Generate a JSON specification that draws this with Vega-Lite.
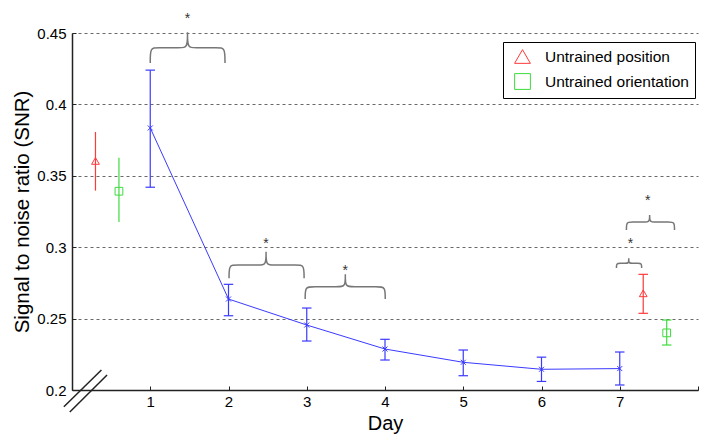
{
  "$schema": "https://vega.github.io/schema/vega-lite/v6.json",
  "width": 626,
  "height": 357,
  "autosize": "none",
  "padding": {"left": 72, "top": 33, "right": 9, "bottom": 46},
  "background": "white",
  "config": {
    "font": "Liberation Sans",
    "view": {"stroke": null},
    "axis": {"labelFont": "Liberation Sans", "titleFont": "Liberation Sans", "labelColor": "black", "titleColor": "black", "titleFontWeight": "normal", "domainColor": "#222", "domainWidth": 1.5, "tickColor": "#222"},
    "legend": {"title": null, "orient": "none", "legendX": 431, "legendY": 9, "strokeColor": "black", "fillColor": "white", "padding": 6, "rowPadding": 5, "symbolSize": 250, "symbolStrokeWidth": 1, "symbolOffset": 5, "labelOffset": 14, "labelFontSize": 15.5, "labelFont": "Liberation Sans", "labelColor": "black", "labelLimit": 300}
  },
  "datasets": {
    "snr": [
      {"day": 1, "cond": "Trained", "mean": 0.3835, "lo": 0.342, "hi": 0.424},
      {"day": 2, "cond": "Trained", "mean": 0.2637, "lo": 0.252, "hi": 0.274},
      {"day": 3, "cond": "Trained", "mean": 0.2455, "lo": 0.2343, "hi": 0.2574},
      {"day": 4, "cond": "Trained", "mean": 0.2287, "lo": 0.221, "hi": 0.2355},
      {"day": 5, "cond": "Trained", "mean": 0.2194, "lo": 0.21, "hi": 0.228},
      {"day": 6, "cond": "Trained", "mean": 0.2145, "lo": 0.206, "hi": 0.223},
      {"day": 7, "cond": "Trained", "mean": 0.215, "lo": 0.2035, "hi": 0.2266},
      {"day": 0.3, "cond": "Untrained position", "mean": 0.3604, "lo": 0.3396, "hi": 0.3807},
      {"day": 7.3, "cond": "Untrained position", "mean": 0.2677, "lo": 0.2537, "hi": 0.281},
      {"day": 0.6, "cond": "Untrained orientation", "mean": 0.3392, "lo": 0.3176, "hi": 0.3626},
      {"day": 7.6, "cond": "Untrained orientation", "mean": 0.24, "lo": 0.2315, "hi": 0.249}
    ],
    "braces": [
      {"b": 1, "i": 1, "day": 1.0, "snr": 0.429},
      {"b": 1, "i": 2, "day": 1.0, "snr": 0.4397},
      {"b": 1, "i": 3, "day": 1.08, "snr": 0.4397},
      {"b": 1, "i": 4, "day": 1.396, "snr": 0.4397},
      {"b": 1, "i": 5, "day": 1.476, "snr": 0.4397},
      {"b": 1, "i": 6, "day": 1.476, "snr": 0.4505},
      {"b": 1, "i": 7, "day": 1.476, "snr": 0.4505},
      {"b": 1, "i": 8, "day": 1.476, "snr": 0.4505},
      {"b": 1, "i": 9, "day": 1.476, "snr": 0.4397},
      {"b": 1, "i": 10, "day": 1.556, "snr": 0.4397},
      {"b": 1, "i": 11, "day": 1.875, "snr": 0.4397},
      {"b": 1, "i": 12, "day": 1.955, "snr": 0.4397},
      {"b": 1, "i": 13, "day": 1.955, "snr": 0.429},
      {"b": 2, "i": 1, "day": 2.007, "snr": 0.2782},
      {"b": 2, "i": 2, "day": 2.007, "snr": 0.2875},
      {"b": 2, "i": 3, "day": 2.087, "snr": 0.2875},
      {"b": 2, "i": 4, "day": 2.4, "snr": 0.2875},
      {"b": 2, "i": 5, "day": 2.48, "snr": 0.2875},
      {"b": 2, "i": 6, "day": 2.48, "snr": 0.2968},
      {"b": 2, "i": 7, "day": 2.48, "snr": 0.2968},
      {"b": 2, "i": 8, "day": 2.48, "snr": 0.2968},
      {"b": 2, "i": 9, "day": 2.48, "snr": 0.2875},
      {"b": 2, "i": 10, "day": 2.56, "snr": 0.2875},
      {"b": 2, "i": 11, "day": 2.886, "snr": 0.2875},
      {"b": 2, "i": 12, "day": 2.966, "snr": 0.2875},
      {"b": 2, "i": 13, "day": 2.966, "snr": 0.2782},
      {"b": 3, "i": 1, "day": 2.98, "snr": 0.2637},
      {"b": 3, "i": 2, "day": 2.98, "snr": 0.2723},
      {"b": 3, "i": 3, "day": 3.06, "snr": 0.2723},
      {"b": 3, "i": 4, "day": 3.413, "snr": 0.2723},
      {"b": 3, "i": 5, "day": 3.493, "snr": 0.2723},
      {"b": 3, "i": 6, "day": 3.493, "snr": 0.281},
      {"b": 3, "i": 7, "day": 3.493, "snr": 0.281},
      {"b": 3, "i": 8, "day": 3.493, "snr": 0.281},
      {"b": 3, "i": 9, "day": 3.493, "snr": 0.2723},
      {"b": 3, "i": 10, "day": 3.573, "snr": 0.2723},
      {"b": 3, "i": 11, "day": 3.923, "snr": 0.2723},
      {"b": 3, "i": 12, "day": 4.003, "snr": 0.2723},
      {"b": 3, "i": 13, "day": 4.003, "snr": 0.2637},
      {"b": 4, "i": 1, "day": 6.958, "snr": 0.2854},
      {"b": 4, "i": 2, "day": 6.958, "snr": 0.2887},
      {"b": 4, "i": 3, "day": 6.998, "snr": 0.2887},
      {"b": 4, "i": 4, "day": 7.075, "snr": 0.2887},
      {"b": 4, "i": 5, "day": 7.115, "snr": 0.2887},
      {"b": 4, "i": 6, "day": 7.115, "snr": 0.2922},
      {"b": 4, "i": 7, "day": 7.115, "snr": 0.2922},
      {"b": 4, "i": 8, "day": 7.115, "snr": 0.2922},
      {"b": 4, "i": 9, "day": 7.115, "snr": 0.2887},
      {"b": 4, "i": 10, "day": 7.155, "snr": 0.2887},
      {"b": 4, "i": 11, "day": 7.24, "snr": 0.2887},
      {"b": 4, "i": 12, "day": 7.28, "snr": 0.2887},
      {"b": 4, "i": 13, "day": 7.28, "snr": 0.2854},
      {"b": 5, "i": 1, "day": 7.085, "snr": 0.312},
      {"b": 5, "i": 2, "day": 7.085, "snr": 0.3176},
      {"b": 5, "i": 3, "day": 7.145, "snr": 0.3176},
      {"b": 5, "i": 4, "day": 7.322, "snr": 0.3176},
      {"b": 5, "i": 5, "day": 7.382, "snr": 0.3176},
      {"b": 5, "i": 6, "day": 7.382, "snr": 0.3225},
      {"b": 5, "i": 7, "day": 7.382, "snr": 0.3225},
      {"b": 5, "i": 8, "day": 7.382, "snr": 0.3225},
      {"b": 5, "i": 9, "day": 7.382, "snr": 0.3176},
      {"b": 5, "i": 10, "day": 7.442, "snr": 0.3176},
      {"b": 5, "i": 11, "day": 7.64, "snr": 0.3176},
      {"b": 5, "i": 12, "day": 7.7, "snr": 0.3176},
      {"b": 5, "i": 13, "day": 7.7, "snr": 0.312}
    ],
    "stars": [
      {"day": 1.476, "snr": 0.4626},
      {"day": 2.48, "snr": 0.305},
      {"day": 3.493, "snr": 0.2864},
      {"day": 7.136, "snr": 0.305},
      {"day": 7.357, "snr": 0.3354}
    ],
    "breaks": [
      {"x": -0.104, "y": 0.1883, "x2": 0.376, "y2": 0.214},
      {"x": -0.028, "y": 0.1846, "x2": 0.448, "y2": 0.2105}
    ]
  },
  "layer": [
    {
      "data": {"name": "snr"},
      "transform": [{"filter": "datum.cond == 'Trained'"}],
      "mark": {"type": "line", "interpolate": "linear", "color": "#3a3aff", "strokeWidth": 1},
      "encoding": {
        "x": {"field": "day", "type": "quantitative", "scale": {"domain": [0, 8], "nice": false, "zero": false},
          "axis": {"values": [1, 2, 3, 4, 5, 6, 7, 8], "format": "d", "labelExpr": "datum.value >= 1 && datum.value <= 7 ? datum.label : ''", "grid": false, "tickSize": -4, "labelPadding": 8, "labelFontSize": 15, "title": "Day", "titleFontSize": 20, "titlePadding": 4}},
        "y": {"field": "mean", "type": "quantitative", "scale": {"domain": [0.2, 0.45], "nice": false, "zero": false},
          "axis": {"values": [0.2, 0.25, 0.3, 0.35, 0.4, 0.45], "format": "~g", "grid": true, "gridDash": [3, 3], "gridColor": "#444", "gridWidth": 0.8, "tickSize": -4, "labelPadding": 10, "labelFontSize": 15, "title": "Signal to noise ratio (SNR)", "titleFontSize": 20.5, "titlePadding": 4}}
      }
    },
    {
      "data": {"name": "snr"},
      "transform": [{"filter": "datum.cond != 'Trained'"}],
      "mark": {"type": "point", "filled": false, "size": 60, "strokeWidth": 1, "opacity": 1},
      "encoding": {
        "x": {"field": "day", "type": "quantitative"},
        "y": {"field": "mean", "type": "quantitative"},
        "color": {"field": "cond", "type": "nominal", "scale": {"domain": ["Untrained position", "Untrained orientation", "Trained"], "range": ["#ff3a3a", "#3ddc3d", "#3a3aff"]}, "legend": {"values": ["Untrained position", "Untrained orientation"]}},
        "shape": {"field": "cond", "type": "nominal", "scale": {"domain": ["Untrained position", "Untrained orientation", "Trained"], "range": ["triangle-up", "square", "circle"]}, "legend": {"values": ["Untrained position", "Untrained orientation"]}}
      }
    },
    {
      "data": {"name": "snr"},
      "mark": {"type": "rule", "strokeWidth": 1.2},
      "encoding": {
        "x": {"field": "day", "type": "quantitative"},
        "y": {"field": "lo", "type": "quantitative"},
        "y2": {"field": "hi"},
        "color": {"field": "cond", "type": "nominal", "legend": {"values": ["Untrained position", "Untrained orientation"]}}
      }
    },
    {
      "data": {"name": "snr"},
      "transform": [{"filter": "datum.cond == 'Trained' || datum.day > 7"}],
      "mark": {"type": "point", "shape": "M-1,0L1,0", "filled": false, "size": 90, "strokeWidth": 1.2, "opacity": 1},
      "encoding": {
        "x": {"field": "day", "type": "quantitative"},
        "y": {"field": "lo", "type": "quantitative"},
        "color": {"field": "cond", "type": "nominal", "legend": {"values": ["Untrained position", "Untrained orientation"]}}
      }
    },
    {
      "data": {"name": "snr"},
      "transform": [{"filter": "datum.cond == 'Trained' || datum.day > 7"}],
      "mark": {"type": "point", "shape": "M-1,0L1,0", "filled": false, "size": 90, "strokeWidth": 1.2, "opacity": 1},
      "encoding": {
        "x": {"field": "day", "type": "quantitative"},
        "y": {"field": "hi", "type": "quantitative"},
        "color": {"field": "cond", "type": "nominal", "legend": {"values": ["Untrained position", "Untrained orientation"]}}
      }
    },
    {
      "data": {"name": "snr"},
      "transform": [{"filter": "datum.cond == 'Trained'"}],
      "mark": {"type": "point", "shape": "M-1,-1L1,1M-1,1L1,-1", "filled": false, "size": 25, "color": "#3a3aff", "strokeWidth": 1, "opacity": 1},
      "encoding": {
        "x": {"field": "day", "type": "quantitative"},
        "y": {"field": "mean", "type": "quantitative"}
      }
    },
    {
      "data": {"name": "braces"},
      "mark": {"type": "line", "interpolate": "basis", "color": "#777", "strokeWidth": 1.5},
      "encoding": {
        "x": {"field": "day", "type": "quantitative"},
        "y": {"field": "snr", "type": "quantitative"},
        "detail": {"field": "b", "type": "nominal"},
        "order": {"field": "i", "type": "quantitative"}
      }
    },
    {
      "data": {"name": "stars"},
      "mark": {"type": "text", "text": "*", "fontSize": 14, "color": "#333", "baseline": "middle", "dy": 4},
      "encoding": {
        "x": {"field": "day", "type": "quantitative"},
        "y": {"field": "snr", "type": "quantitative"}
      }
    },
    {
      "data": {"name": "breaks"},
      "mark": {"type": "rule", "color": "#222", "strokeWidth": 1.5},
      "encoding": {
        "x": {"field": "x", "type": "quantitative"},
        "y": {"field": "y", "type": "quantitative"},
        "x2": {"field": "x2"},
        "y2": {"field": "y2"}
      }
    }
  ]
}
